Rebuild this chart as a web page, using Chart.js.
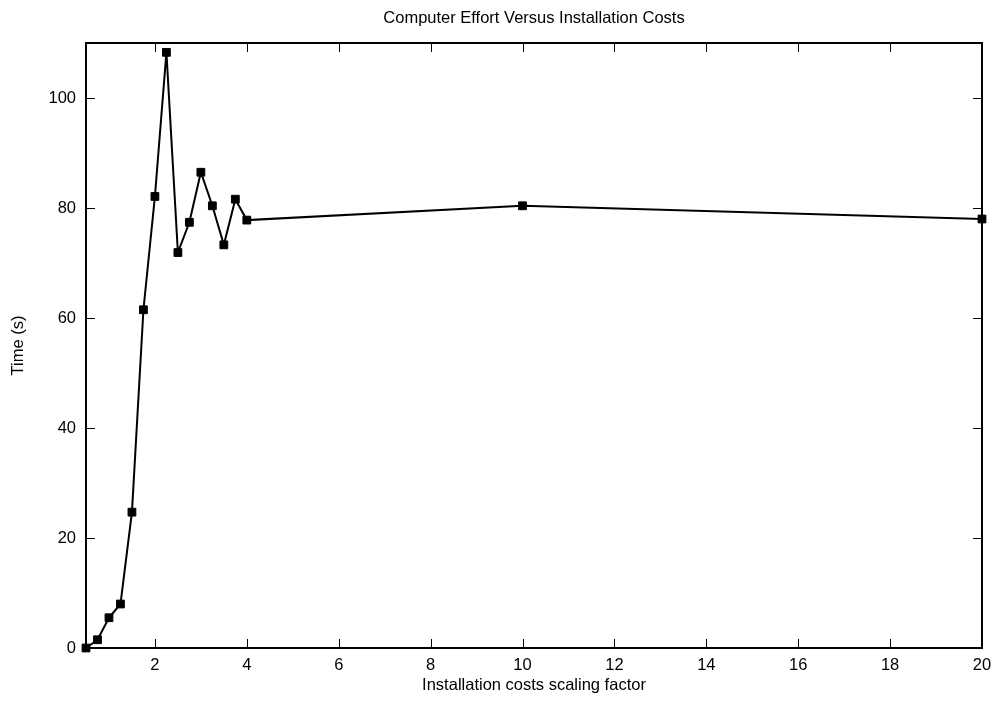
<!DOCTYPE html>
<html>
<head>
<meta charset="utf-8">
<script src="https://cdn.jsdelivr.net/npm/chart.js@4"></script>
<style>
  html, body { margin: 0; padding: 0; background: #fff; }
  canvas { display: block; }
</style>
</head>
<body>
<canvas id="myChart" width="1003" height="702"></canvas>
<script>
// scaling factor (x) and solve time in seconds (y)
var scalingFactors = [0.5, 0.75, 1.0, 1.25, 1.5, 1.75, 2.0, 2.25, 2.5, 2.75, 3.0, 3.25, 3.5, 3.75, 4.0, 10, 20];
var timeSeconds = [0, 1.5, 5.5, 8.0, 24.7, 61.5, 82.1, 108.3, 71.9, 77.4, 86.5, 80.4, 73.3, 81.6, 77.8, 80.4, 78.0];

var xTicks = [2, 4, 6, 8, 10, 12, 14, 16, 18, 20];
var yTicks = [0, 20, 40, 60, 80, 100];

var fontFamily = '"Liberation Sans", Arial, Helvetica, sans-serif';
Chart.defaults.font.family = fontFamily;
Chart.defaults.font.size = 16.5;
Chart.defaults.color = '#000';

// gnuplot style frame with inward ticks on all four sides
var framePlugin = {
    id: 'frame',
    afterLayout: function(chart) {
        // centre the title over the plot area, not the whole canvas
        if (chart.titleBlock) {
            chart.titleBlock.left = chart.chartArea.left;
            chart.titleBlock.right = chart.chartArea.right;
            chart.titleBlock.width = chart.chartArea.right - chart.chartArea.left;
        }
    },
    afterDraw: function(chart) {
        var ctx = chart.ctx;
        var a = chart.chartArea;
        var xs = chart.scales.x, ys = chart.scales.y;
        var len = 9;
        ctx.save();
        ctx.strokeStyle = '#000';
        ctx.lineWidth = 1;
        ctx.beginPath();
        xTicks.forEach(function(v) {
            var px = Math.round(xs.getPixelForValue(v)) + 0.5;
            ctx.moveTo(px, a.bottom); ctx.lineTo(px, a.bottom - len);
            ctx.moveTo(px, a.top); ctx.lineTo(px, a.top + len);
        });
        yTicks.forEach(function(v) {
            var py = Math.round(ys.getPixelForValue(v)) + 0.5;
            ctx.moveTo(a.left, py); ctx.lineTo(a.left + len, py);
            ctx.moveTo(a.right, py); ctx.lineTo(a.right - len, py);
        });
        ctx.stroke();
        ctx.lineWidth = 2;
        ctx.strokeRect(a.left, a.top, a.right - a.left, a.bottom - a.top);
        ctx.restore();
    }
};

var ctx = document.getElementById('myChart').getContext('2d');
var chart = new Chart(ctx, {
    type: 'line',
    data: {
        datasets: [{
            label: 'Time',
            data: scalingFactors.map(function(x, i) { return { x: x, y: timeSeconds[i] }; }),
            borderColor: '#000',
            backgroundColor: '#000',
            borderWidth: 2,
            pointStyle: 'rect',
            pointRadius: 5.5,
            pointBorderWidth: 1,
            tension: 0,
            clip: false
        }]
    },
    options: {
        responsive: false,
        animation: false,
        layout: { padding: { left: 0, right: 21, top: 0, bottom: 0 } },
        plugins: {
            legend: { display: false },
            tooltip: { enabled: false },
            title: {
                display: true,
                text: 'Computer Effort Versus Installation Costs',
                font: { size: 16.5, weight: 'normal' },
                padding: { top: 8.1, bottom: 15.1 }
            }
        },
        scales: {
            x: {
                type: 'linear',
                min: 0.5,
                max: 20,
                afterBuildTicks: function(scale) {
                    scale.ticks = xTicks.map(function(v) { return { value: v }; });
                },
                afterFit: function(scale) { scale.height = 54; },
                grid: { display: false, drawTicks: false },
                border: { display: false },
                ticks: { padding: 8, maxRotation: 0, autoSkip: false },
                title: {
                    display: true,
                    text: 'Installation costs scaling factor',
                    font: { size: 16.5 },
                    padding: { top: 0, bottom: 7.1 }
                }
            },
            y: {
                type: 'linear',
                min: 0,
                max: 110,
                afterBuildTicks: function(scale) {
                    scale.ticks = yTicks.map(function(v) { return { value: v }; });
                },
                afterFit: function(scale) { scale.width = 86; },
                grid: { display: false, drawTicks: false },
                border: { display: false },
                ticks: { padding: 10, autoSkip: false },
                title: {
                    display: true,
                    text: 'Time (s)',
                    font: { size: 16.5 },
                    padding: { top: 8.6, bottom: 0 }
                }
            }
        }
    },
    plugins: [framePlugin]
});
</script>
</body>
</html>
